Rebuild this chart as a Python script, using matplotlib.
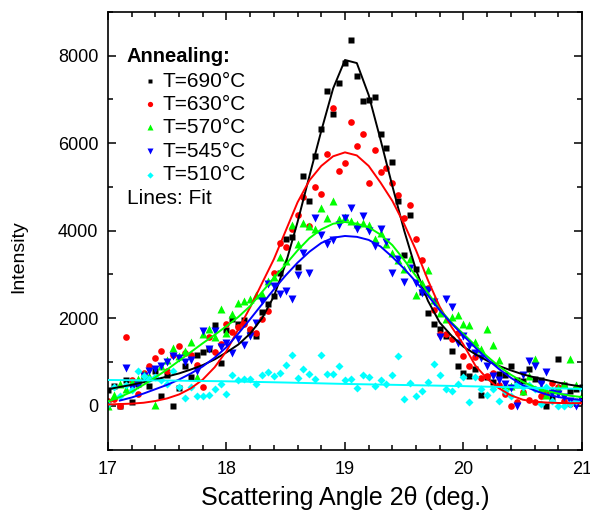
import numpy as np
import matplotlib
matplotlib.use("Agg")
import matplotlib.pyplot as plt
from matplotlib.ticker import MultipleLocator

plt.rcParams['font.family'] = ['Liberation Sans', 'DejaVu Sans']

# measured scattering angle grid (deg.), one point every 0.05
angle = np.linspace(17.0, 21.0, 81)

# intensities
black = [350, 450, 0, 600, 90, 500, 650, 450, 800, 215,
         705, 0, 400, 900, 650, 1150, 1230, 1300, 1840, 970,
         1725, 1990, 1880, 1970, 1720, 1600, 2150, 2320, 2500, 3030,
         3810, 3860, 3160, 5250, 4680, 5710, 6320, 7200, 6670, 7380,
         7840, 8350, 7530, 6970, 6990, 7050, 6200, 5900, 5560, 4670,
         3450, 4350, 3120, 2610, 2120, 1860, 1750, 1600, 1250, 900,
         760, 690, 830, 250, 650, 550, 730, 700, 900, 600,
         560, 850, 620, 590, 0, 190, 1070, 470, 330, 380, 420]
red = [100, 150, 0, 1570, 590, 270, 740, 900, 1100, 1250,
       800, 1150, 1360, 1200, 1170, 940, 420, 1570, 1220, 1420,
       1880, 1690, 1800, 1880, 1750, 1660, 1980, 2160, 3030, 3720,
       3630, 4030, 4370, 4760, 4100, 5000, 4830, 5750, 6810, 5370,
       5540, 6480, 5940, 6210, 5080, 5850, 5330, 5440, 5080, 4820,
       4300, 4590, 3800, 3330, 2700, 2200, 1630, 1630, 1530, 1660,
       1130, 900, 1110, 640, 690, 740, 480, 270, 0, 80,
       310, 130, 80, 230, 300, 520, 420, 120, 40, 120, 100]
green = [0, 250, 500, 380, 550, 620, 720, 690, 15, 900,
         1050, 1330, 1130, 1250, 1460, 650, 1650, 1750, 1570, 2210,
         1660, 2100, 2360, 2400, 2450, 2530, 2550, 2840, 2950, 3410,
         3300, 4140, 3700, 4180, 4100, 4050, 4510, 4290, 4680, 4270,
         4320, 4220, 4150, 4180, 4140, 3810, 3950, 3700, 3490, 3340,
         3120, 3360, 2530, 2800, 3100, 2420, 2130, 1990, 2040, 2080,
         1870, 1840, 1460, 1300, 1760, 1380, 1040, 480, 460, 500,
         330, 690, 1060, 400, 250, 350, 400, 500, 1070, 480, 250]
# the 545 C scan starts at 17.15 deg
blue = [870, 410, 480, 690, 800, 840, 900, 1010, 1130, 1100,
        1000, 1050, 800, 1710, 1300, 1720, 1340, 1430, 1200, 1520,
        1400, 1590, 1890, 2400, 2780, 2740, 2550, 2630, 2450, 2990,
        3500, 3040, 4290, 3910, 3700, 3790, 4140, 4290, 4520, 4040,
        4330, 3990, 3650, 4040, 3750, 3030, 3350, 2830, 3140, 2800,
        2570, 2650, 2380, 1580, 2450, 2260, 1430, 1600, 1360, 1200,
        1100, 920, 690, 600, 500, 400, 0, 710, 1030, 910,
        500, 780, 300, 270, 200, 100, 0, 100]
cyan = [40, 440, 230, 480, 350, 800, 690, 610, 650, 590,
        500, 800, 420, 170, 420, 230, 230, 250, 380, 500,
        280, 710, 590, 610, 610, 500, 710, 770, 690, 740,
        940, 1150, 630, 840, 730, 610, 1150, 730, 730, 920,
        590, 620, 400, 715, 650, 450, 600, 500, 713, 1140,
        150, 514, 230, 345, 550, 958, 713, 390, 345, 500,
        652, 77, 652, 383, 253, 383, 115, 330, 230, 498,
        437, 483, 383, 46, 422, 115, 0, 0, 38, 115, 383]

# fit curves every 0.1 deg
fit_x = np.linspace(17.0, 21.0, 41)
black_fit = [380, 430, 480, 540, 600, 670, 740, 830, 930, 1060,
             1220, 1400, 1650, 2000, 2500, 3250, 4200, 5250, 6280, 7250,
             7900, 7830, 7100, 6080, 5020, 4000, 3100, 2400, 1900, 1600,
             1350, 1180, 1030, 910, 810, 720, 650, 590, 530, 480, 440]
red_fit = [30, 40, 50, 70, 110, 170, 260, 400, 600, 880,
           1250, 1750, 2250, 2800, 3350, 4000, 4650, 5150, 5480, 5700,
           5790, 5720, 5480, 5100, 4680, 4150, 3550, 2870, 2260, 1800,
           1400, 920, 620, 400, 240, 140, 95, 75, 65, 60, 60]
green_fit = [100, 200, 320, 480, 650, 830, 1030, 1230, 1430, 1620,
             1820, 2030, 2280, 2600, 2920, 3230, 3550, 3830, 4030, 4160,
             4200, 4160, 4080, 3910, 3670, 3330, 2960, 2580, 2200, 1900,
             1640, 1380, 1130, 900, 710, 550, 430, 340, 280, 230, 200]
blue_fit = [120, 190, 280, 380, 480, 600, 740, 900, 1100,
            1340, 1650, 1980, 2320, 2660, 2980, 3270, 3520, 3720, 3840,
            3880, 3860, 3790, 3640, 3400, 3130, 2830, 2520, 2180, 1880,
            1600, 1330, 1070, 840, 640, 470, 350, 260, 200, 160, 130]
cyan_fit_x = [17.0, 17.5, 18.0, 18.5, 19.0, 19.5, 20.0, 20.5, 21.0]
cyan_fit = [590, 578, 560, 532, 500, 475, 450, 418, 385]

labels = ["T=690°C", "T=630°C", "T=570°C", "T=545°C", "T=510°C"]

fig = plt.figure(figsize=(5.9, 5.15), dpi=100)
ax = fig.add_axes([0.183, 0.127, 0.8034, 0.85])

ax.plot(angle, black, 's', color='black', ms=4.2, mec='none', zorder=2)
ax.plot(angle, red, 'o', color='#ff0000', ms=4.8, mec='none', zorder=2)
ax.plot(angle, green, '^', color='#00ff00', ms=5.2, mec='none', zorder=2)
ax.plot(angle[3:], blue, 'v', color='#0000ff', ms=5.2, mec='none', zorder=2)
ax.plot(angle, cyan, 'D', color='#00ffff', ms=4.2, mec='none', zorder=2)

ax.plot(fit_x, black_fit, '-', color='black', lw=1.4, zorder=3)
ax.plot(fit_x, red_fit, '-', color='#ff0000', lw=1.4, zorder=3)
ax.plot(fit_x, green_fit, '-', color='#00ff00', lw=1.4, zorder=3)
ax.plot(fit_x[1:], blue_fit, '-', color='#0000ff', lw=1.4, zorder=3)
ax.plot(cyan_fit_x, cyan_fit, '-', color='#00ffff', lw=1.4, zorder=3)

ax.set_xlim(17, 21)
ax.set_ylim(-1000, 9000)
ax.xaxis.set_major_locator(MultipleLocator(1))
ax.xaxis.set_minor_locator(MultipleLocator(0.2))
ax.yaxis.set_major_locator(MultipleLocator(2000))
ax.yaxis.set_minor_locator(MultipleLocator(1000))
ax.tick_params(which='both', direction='in', top=True, right=True, width=1.1)
ax.tick_params(which='major', length=6, labelsize=13)
ax.tick_params(which='minor', length=3.5)
ax.tick_params(axis='x', pad=8)
ax.tick_params(axis='y', pad=7)
for s in ax.spines.values():
    s.set_linewidth(1.2)

ax.set_xlabel("Scattering Angle 2θ (deg.)", fontsize=18, labelpad=6)
ax.set_ylabel("Intensity", fontsize=14)
ax.yaxis.set_label_coords(-0.17, 0.44)

# legend block, drawn by hand
ax.text(0.04, 0.897, "Annealing:", transform=ax.transAxes, fontsize=14.5,
        fontweight='bold', va='center')
styles = [('s', 'black', 3.2), ('o', '#ff0000', 3.8), ('^', '#00ff00', 4.2),
          ('v', '#0000ff', 4.2), ('D', '#00ffff', 3.2)]
rows = [0.842, 0.789, 0.736, 0.682, 0.628]
for (m, c, ms), lab, yy in zip(styles, labels, rows):
    ax.plot([0.088], [yy], m, color=c, ms=ms, mec='none', transform=ax.transAxes)
    ax.text(0.115, yy, lab, transform=ax.transAxes, fontsize=15, va='center')
ax.text(0.04, 0.573, "Lines: Fit", transform=ax.transAxes, fontsize=15, va='center')

fig.savefig("out.png", dpi=100)
